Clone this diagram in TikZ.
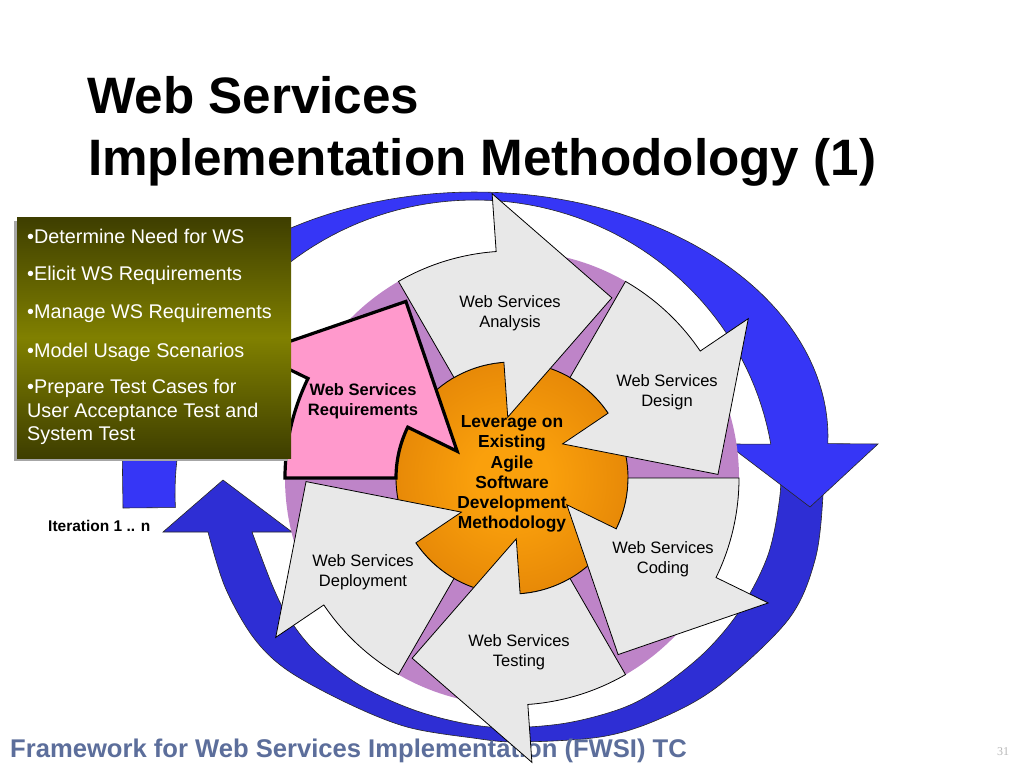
\documentclass[tikz,border=0pt]{standalone}
\usepackage{fontspec}
\setmainfont{Liberation Sans}
\newfontfamily\numfont{Liberation Serif}
\definecolor{bladegrey}{RGB}{232,232,232}
\definecolor{pinkfill}{RGB}{255,153,204}
\definecolor{purp}{RGB}{190,132,200}
\definecolor{blueA}{RGB}{54,54,246}
\definecolor{blueB}{RGB}{46,46,212}
\definecolor{gearin}{RGB}{250,160,12}
\definecolor{gearout}{RGB}{204,104,0}
\definecolor{olivedark}{RGB}{62,62,0}
\definecolor{olivemid}{RGB}{128,128,0}
\definecolor{footblue}{RGB}{92,110,155}
\pgfdeclareradialshading{gearshade}{\pgfpoint{0bp}{0bp}}{color(0bp)=(gearin); color(8bp)=(gearin); color(50bp)=(gearout)}
\newcommand\setfs[2]{\fontsize{#1}{#2}\selectfont}
\begin{document}
\begin{tikzpicture}[x=1pt,y=-1pt,
  blade/.style={fill=bladegrey, draw=black, line width=0.8pt, line join=miter},
  reqblade/.style={fill=pinkfill, draw=black, line width=3.2pt, line join=miter},
  bluearrow/.style={draw=black!85, line width=0.6pt, line join=miter},
  bladelabel/.style={align=center, inner sep=0pt, font=\setfs{16.5}{20.5}},
  boxtext/.style={anchor=base west, inner sep=0pt, text=white, font=\setfs{19.8}{23.5}},
  titletext/.style={anchor=base west, inner sep=0pt, font=\bfseries\setfs{51.2}{60}}]
\useasboundingbox (0,0) rectangle (1024,768);
\fill[white] (0,0) rectangle (1024,768);
\coordinate (C) at (512,478);

% title
\node[titletext] (title1) at (87,113) {Web Services};
\node[titletext] (title2) at (88,175) {Implementation Methodology (1)};

% second blue arrow (bottom, pointing up on the left)
\draw[bluearrow, fill=blueB]
  plot[smooth, tension=0.55] coordinates {(822,452) (823,495) (815,560) (788,620) (717,687) (657,720) (600,737) (518,742) (473,738) (407,727) (347,703) (287,670) (253,637) (225,587) (208,532)}
  -- (163,532) -- (223,480) -- (292,532)
  -- plot[smooth, tension=0.55] coordinates {(252,532) (273,587) (290,620) (317,653) (363,687) (423,713) (490,727) (560,724) (620,709) (660,688) (705,652) (740,610) (768,555) (780,495) (780,452)}
  -- cycle;

% first blue arrow (top, pointing down on the right)
\draw[bluearrow, fill=blueA]
  (123,508) -- (122,437)
  -- plot[variable=\t, domain=0:1, samples=90] ({475+353*cos(180+181.64*\t)},{437+245*sin(180+181.64*\t)})
  -- (878,444) -- (810,507) -- (727,444)
  -- plot[variable=\t, domain=0:1, samples=90] ({475+300*cos(350.4-173.33*\t)},{493+293*sin(350.4-173.33*\t)})
  -- cycle;

% footer
\node[anchor=base west, inner sep=0pt, text=footblue, font=\bfseries\setfs{25.6}{30}] (footer) at (10,757) {Framework for Web Services Implementation (FWSI) TC};
\node[inner sep=0pt, text=black!28, font=\numfont\setfs{12}{14}] (pnum) at (1003,752) {31};

% purple disc
\fill[purp] (C) circle[radius=227];

% gear
\shade[shading=gearshade] (C) circle[radius=116];
\draw[black, line width=0.9pt] (C) circle[radius=116];

% blades
\foreach \T in {-30,30,90,150,210}{
  \draw[blade] ({512+227*sin(\T)},{478-227*cos(\T)}) arc[start angle={\T-90}, end angle={\T-64}, radius=227]
   -- ({512+285*sin(\T+26)},{478-285*cos(\T+26)})
   -- ({512+206*sin(\T+59)},{478-206*cos(\T+59)})
   -- ({512+61*sin(\T+26)},{478-61*cos(\T+26)})
   -- ({512+116*sin(\T+26)},{478-116*cos(\T+26)})
   arc[start angle={\T-64}, end angle={\T-90}, radius=116] -- cycle;
}
\foreach \T in {-90}{
  \draw[reqblade] ({512+227*sin(\T)},{478-227*cos(\T)}) arc[start angle={\T-90}, end angle={\T-64}, radius=227]
   -- ({512+285*sin(\T+26)},{478-285*cos(\T+26)})
   -- ({512+206*sin(\T+59)},{478-206*cos(\T+59)})
   -- ({512+61*sin(\T+26)},{478-61*cos(\T+26)})
   -- ({512+116*sin(\T+26)},{478-116*cos(\T+26)})
   arc[start angle={\T-64}, end angle={\T-90}, radius=116] -- cycle;
}

% blade labels
\node[bladelabel] (analysis) at (510,313) {Web Services\\Analysis};
\node[bladelabel] (design) at (667,392) {Web Services\\Design};
\node[bladelabel] (coding) at (663,559) {Web Services\\Coding};
\node[bladelabel] (testing) at (519,652) {Web Services\\Testing};
\node[bladelabel] (deploy) at (363,572) {Web Services\\Deployment};
\node[bladelabel, font=\bfseries\setfs{16.5}{20.5}] (requirements) at (363,401) {Web Services\\Requirements};

% gear text
\node[align=center, inner sep=0pt, font=\bfseries\setfs{17.4}{20.2}] (gear) at (512,474) {Leverage on\\Existing\\Agile\\Software\\Development\\Methodology};

% requirement box
\fill[black!35] (14,221) rectangle (288,461);
\shade[top color=olivedark, bottom color=olivedark, middle color=olivemid] (17,217) rectangle (291,458);
\node[boxtext] (b1) at (27,243) {•Determine Need for WS};
\node[boxtext] (b2) at (27,280) {•Elicit WS Requirements};
\node[boxtext] (b3) at (27,318) {•Manage WS Requirements};
\node[boxtext] (b4) at (27,357) {•Model Usage Scenarios};
\node[boxtext] (b5) at (27,393) {•Prepare Test Cases for};
\node[boxtext] (b6) at (27,417) {User Acceptance Test and};
\node[boxtext] (b7) at (27,440) {System Test};

% iteration label
\node[anchor=base west, inner sep=0pt, font=\bfseries\setfs{15.5}{18}] (iter) at (48,531) {Iteration 1 .. n};
\end{tikzpicture}
\end{document}
